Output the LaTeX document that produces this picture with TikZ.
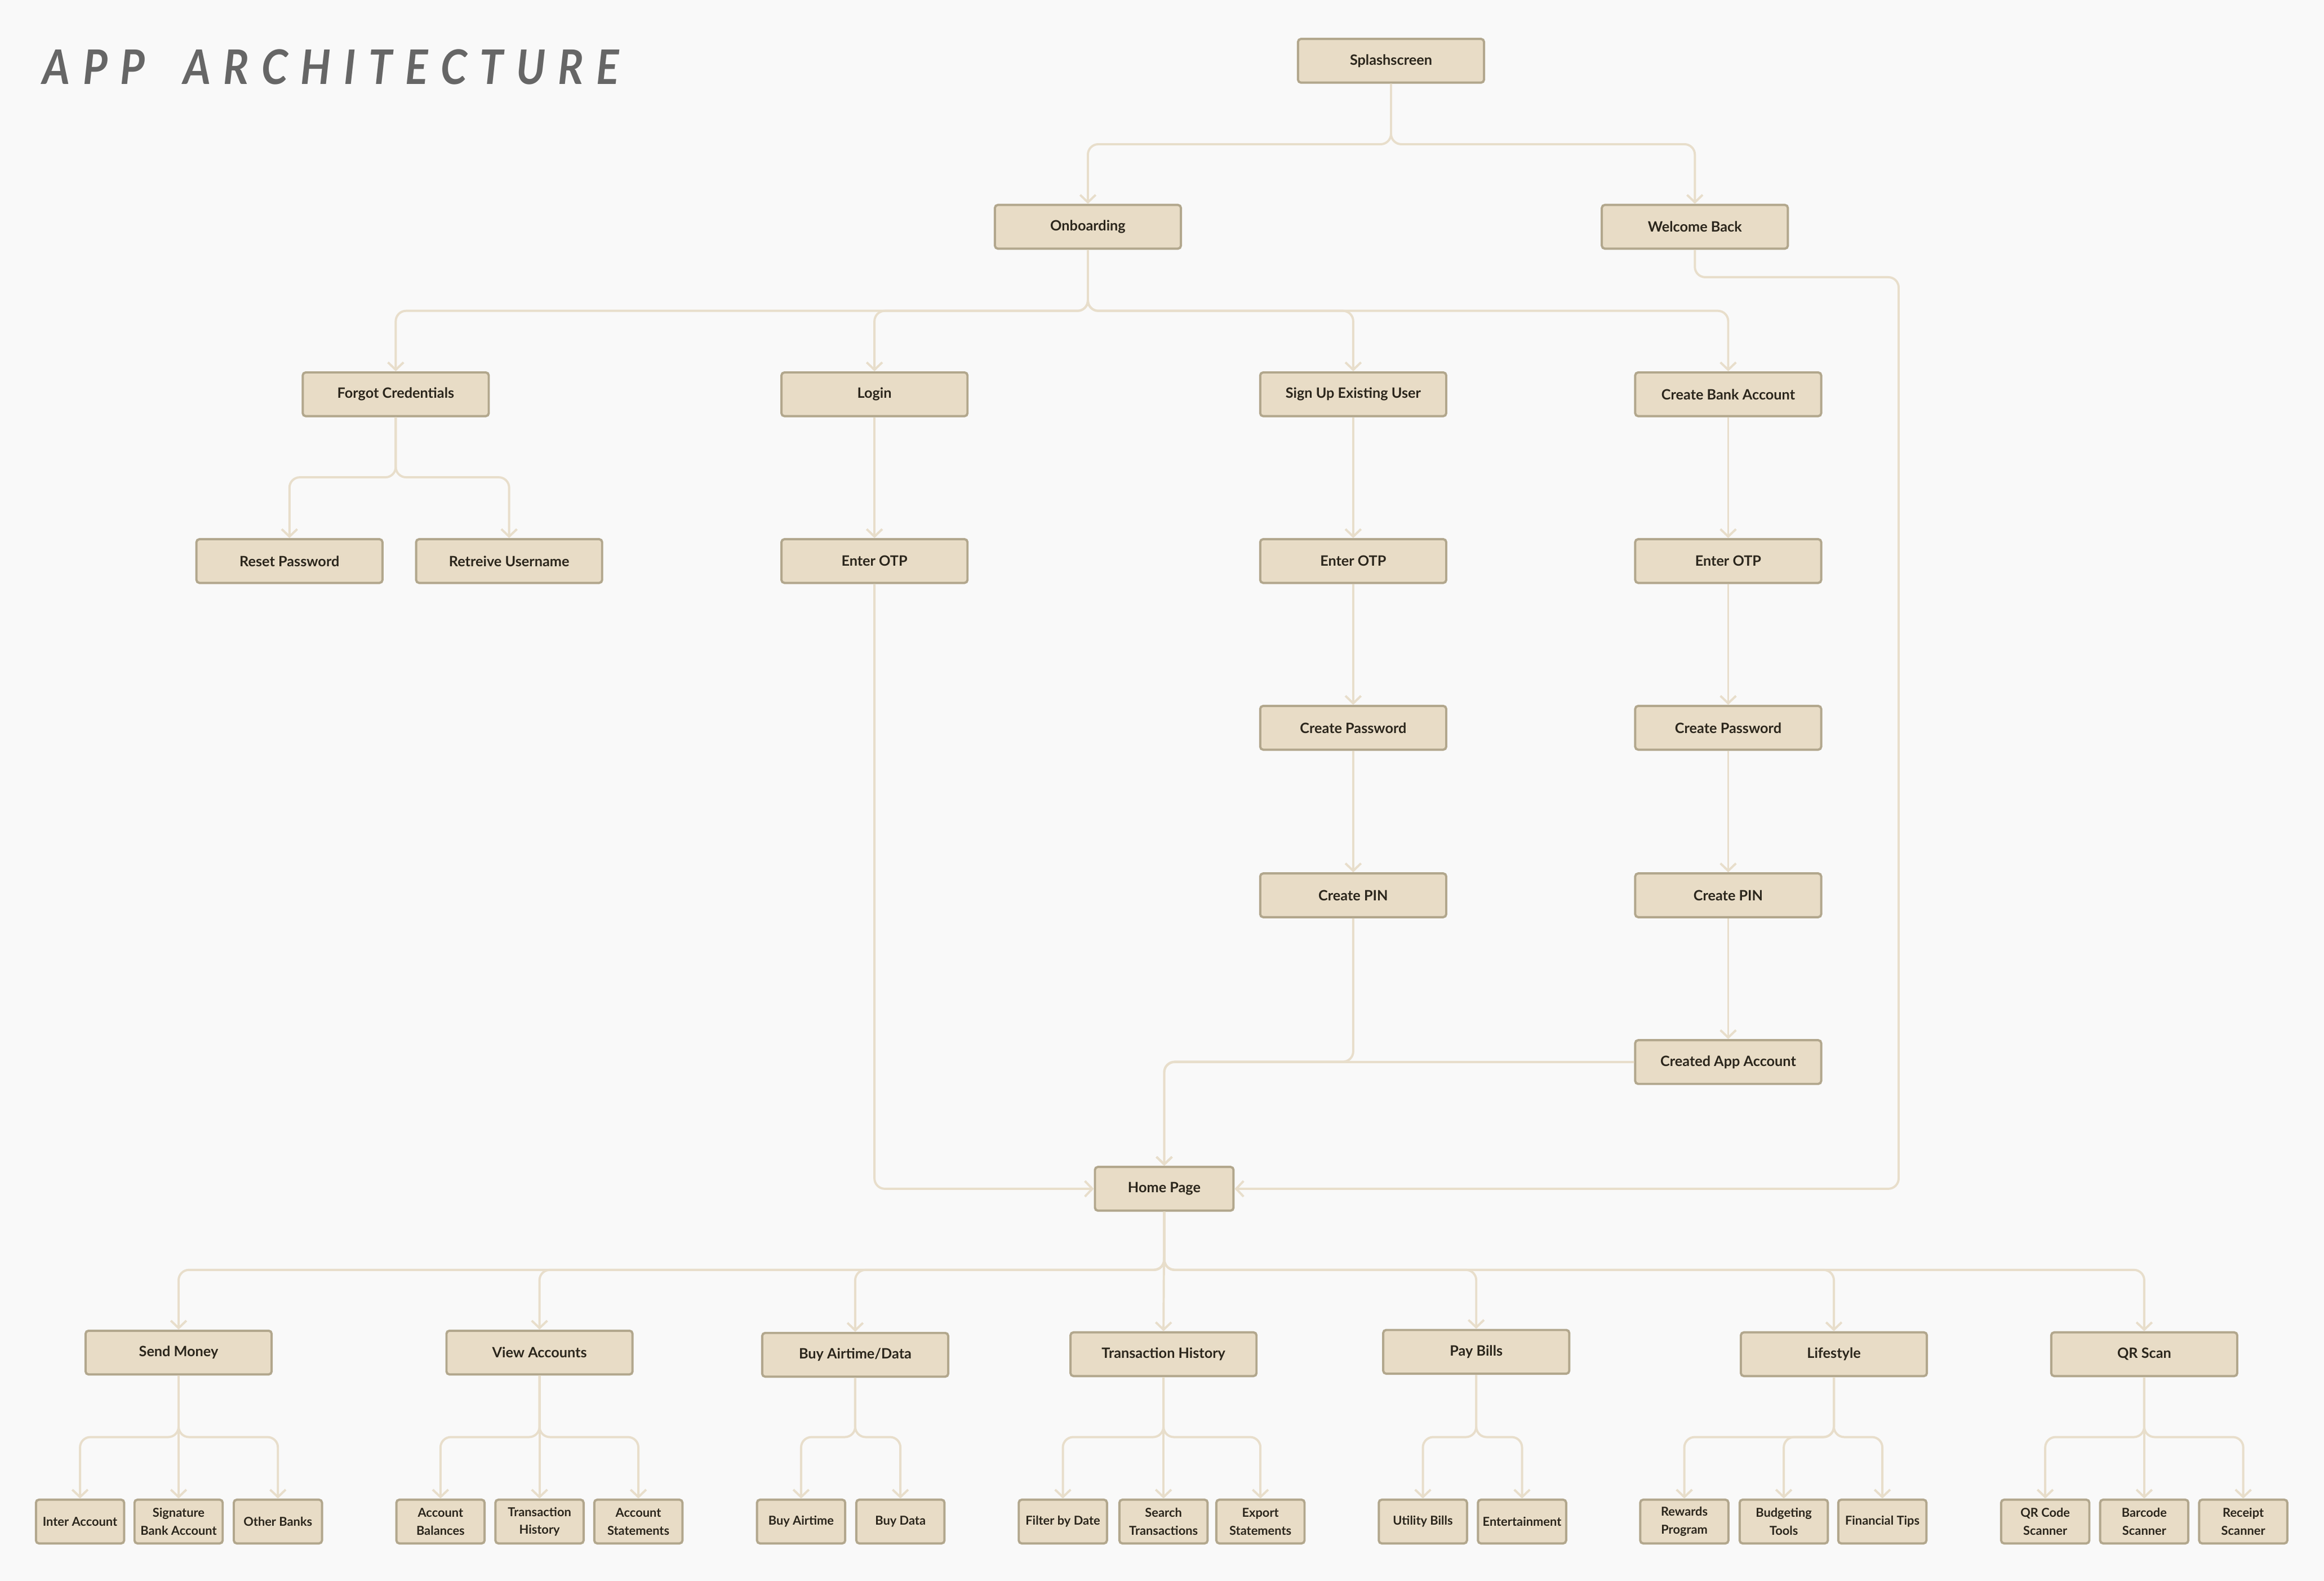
\documentclass[tikz,border=0pt]{standalone}
\usepackage{fontspec}
\usepackage{graphicx}
\usetikzlibrary{arrows.meta}
\newfontfamily\nodefont{Lato}
\newfontfamily\titlefont{Lato}
\definecolor{bgc}{HTML}{F9F9F9}
\definecolor{boxfill}{HTML}{E8DCC6}
\definecolor{boxline}{HTML}{B2A78D}
\definecolor{connc}{HTML}{E8DECB}
\definecolor{txtc}{HTML}{2B261C}
\definecolor{titlec}{HTML}{666666}
\newcommand\tbranch[3]{\draw[conn] (#1.south) -- (#1.south |- #2) -| (#3.north);}
\newcommand\tstraight[2]{\draw[conn] (#1.south) -- (#2.north);}
\begin{document}
\begin{tikzpicture}[x=1pt,y=-1pt,
  box/.style={rectangle, rounded corners=2pt, draw=boxline, fill=boxfill, line width=1.5pt,
    minimum width=125.5pt, minimum height=29.5pt, inner sep=0pt, text=txtc, align=center,
    font=\nodefont\bfseries\fontsize{9.6}{12}\selectfont},
  small/.style={box, minimum width=59.5pt, font=\nodefont\bfseries\fontsize{8.3}{12}\selectfont},
  conn/.style={draw=connc, line width=1.5pt, rounded corners=7pt,
    -{Straight Barb[length=5pt,width=10.5pt]}}]
\fill[bgc] (0,0) rectangle (1568,1066.6);
\useasboundingbox (0,0) rectangle (1568,1066.6);

\def\ls{\hspace{0.3em}}
\node[anchor=west, inner sep=0pt, text=titlec] (title) at (28.5,45.3)
  {\resizebox{389pt}{23.5pt}{\titlefont\bfseries\itshape A\ls P\ls P\hspace{0.9em}A\ls R\ls C\ls H\ls I\ls T\ls E\ls C\ls T\ls U\ls R\ls E}};

% bus levels
\coordinate (bus1) at (0,97.3);
\coordinate (bus2) at (0,209.7);
\coordinate (bus3) at (0,322);
\coordinate (busP) at (0,716.3);
\coordinate (busH) at (0,856.7);
\coordinate (busL) at (0,969.5);
\coordinate (wbturn) at (1281,187);

% nodes
\node[box] (splash) at (938.5,41) {Splashscreen};
\node[box] (onb) at (734,153) {Onboarding};
\node[box] (wb) at (1143.5,153) {Welcome Back};
\node[box] (forgot) at (267,266) {Forgot Credentials};
\node[box] (login) at (590,266) {Login};
\node[box] (signup) at (913,266) {Sign Up Existing User};
\node[box] (cba) at (1166,266) {Create Bank Account};
\node[box] (reset) at (195.3,378.5) {Reset Password};
\node[box] (retr) at (343.5,378.5) {Retreive Username};
\node[box] (otpa) at (590,378.5) {Enter OTP};
\node[box] (otpb) at (913,378.5) {Enter OTP};
\node[box] (otpc) at (1166,378.5) {Enter OTP};
\node[box] (pwb) at (913,491) {Create Password};
\node[box] (pwc) at (1166,491) {Create Password};
\node[box] (pinb) at (913,604) {Create PIN};
\node[box] (pinc) at (1166,604) {Create PIN};
\node[box] (created) at (1166,716.5) {Created App Account};
\node[box, minimum width=93.5pt] (home) at (785.5,802) {Home Page};

\node[box] (send) at (120.5,912.5) {Send Money};
\node[box] (view) at (364,912.5) {View Accounts};
\node[box] (airtime) at (577,914) {Buy Airtime/Data};
\node[box] (trans) at (785,913.6) {Transaction History};
\node[box] (pay) at (996,912) {Pay Bills};
\node[box] (life) at (1237.3,913.6) {Lifestyle};
\node[box] (qr) at (1446.7,913.6) {QR Scan};

\node[small] (inter) at (54,1026.5) {Inter Account};
\node[small] (sig) at (120.5,1026.5) {Signature\\Bank Account};
\node[small] (other) at (187.5,1026.5) {Other Banks};
\node[small] (bal) at (297.2,1026.5) {Account\\Balances};
\node[small] (thist) at (364,1026.5) {Transaction\\History};
\node[small] (stmt) at (430.7,1026.5) {Account\\Statements};
\node[small] (buya) at (540.5,1026.5) {Buy Airtime};
\node[small] (buyd) at (607.5,1026.5) {Buy Data};
\node[small] (filt) at (717.1,1026.5) {Filter by Date};
\node[small] (search) at (785,1026.5) {Search\\Transactions};
\node[small] (export) at (850.4,1026.5) {Export\\Statements};
\node[small] (util) at (960,1026.5) {Utility Bills};
\node[small] (ent) at (1026.9,1026.5) {Entertainment};
\node[small] (rew) at (1136.4,1026.5) {Rewards\\Program};
\node[small] (budg) at (1203.5,1026.5) {Budgeting\\Tools};
\node[small] (fin) at (1270,1026.5) {Financial Tips};
\node[small] (qrc) at (1379.9,1026.5) {QR Code\\Scanner};
\node[small] (bar) at (1446.7,1026.5) {Barcode\\Scanner};
\node[small] (rec) at (1513.5,1026.5) {Receipt\\Scanner};

% connectors
\tbranch{splash}{bus1}{onb}
\tbranch{splash}{bus1}{wb}
\tbranch{onb}{bus2}{forgot}
\tbranch{onb}{bus2}{login}
\tbranch{onb}{bus2}{signup}
\tbranch{onb}{bus2}{cba}
\tbranch{forgot}{bus3}{reset}
\tbranch{forgot}{bus3}{retr}
\tstraight{login}{otpa}
\tstraight{signup}{otpb}
\tstraight{otpb}{pwb}
\tstraight{pwb}{pinb}
\tstraight{cba}{otpc}
\tstraight{otpc}{pwc}
\tstraight{pwc}{pinc}
\tstraight{pinc}{created}
\draw[conn] (otpa.south) |- (home.west);
\tbranch{pinb}{busP}{home}
\draw[conn] (created.west) -| (home.north);
\draw[conn] (wb.south) |- (wbturn) |- (home.east);

\tbranch{home}{busH}{send}
\tbranch{home}{busH}{view}
\tbranch{home}{busH}{airtime}
\tstraight{home}{trans}
\tbranch{home}{busH}{pay}
\tbranch{home}{busH}{life}
\tbranch{home}{busH}{qr}

\tbranch{send}{busL}{inter}
\tstraight{send}{sig}
\tbranch{send}{busL}{other}
\tbranch{view}{busL}{bal}
\tstraight{view}{thist}
\tbranch{view}{busL}{stmt}
\tbranch{airtime}{busL}{buya}
\tbranch{airtime}{busL}{buyd}
\tbranch{trans}{busL}{filt}
\tstraight{trans}{search}
\tbranch{trans}{busL}{export}
\tbranch{pay}{busL}{util}
\tbranch{pay}{busL}{ent}
\tbranch{life}{busL}{rew}
\tbranch{life}{busL}{budg}
\tbranch{life}{busL}{fin}
\tbranch{qr}{busL}{qrc}
\tstraight{qr}{bar}
\tbranch{qr}{busL}{rec}
\end{tikzpicture}
\end{document}
